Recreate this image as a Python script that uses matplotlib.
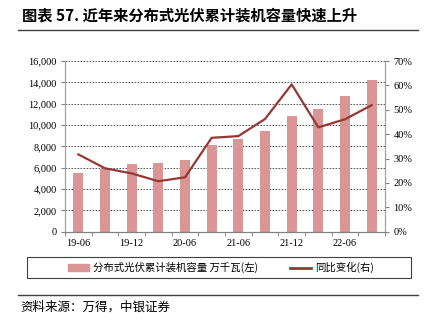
import matplotlib.pyplot as plt
from matplotlib.lines import Line2D
from matplotlib.patches import Patch, Rectangle
from matplotlib.ticker import FuncFormatter, MultipleLocator
import numpy as np

plt.rcParams['font.family'] = ['Liberation Serif', 'Noto Sans CJK SC']

periods = ['19-06', '19-09', '19-12', '20-03', '20-06', '20-12',
           '21-06', '21-09', '21-12', '22-03', '22-06', '22-09']
capacity = [5500, 5900, 6300, 6400, 6700, 8100,
            8700, 9400, 10800, 11500, 12700, 14200]   # 万千瓦
yoy = [31.7, 26.0, 23.9, 20.7, 22.3, 38.5,
       39.2, 46.2, 60.4, 42.8, 46.1, 51.9]            # %

bar_color = '#D99694'
line_color = '#953735'
cjk = ['Noto Sans CJK SC', 'DejaVu Sans']

fig = plt.figure(figsize=(4.25, 3.26), dpi=100)
ax = fig.add_axes([65 / 425, 1 - 231.7 / 326, 320 / 425, 170.7 / 326])
ax2 = ax.twinx()

x = np.arange(len(periods))
ax.bar(x, capacity, width=0.38, color=bar_color, zorder=2)
ax2.plot(x, yoy, color=line_color, lw=1.6, zorder=3)

ax.set_xlim(-0.5, len(periods) - 0.5)
ax.set_ylim(0, 16000)
ax2.set_ylim(0, 70)
ax.yaxis.set_major_locator(MultipleLocator(2000))
ax.yaxis.set_major_formatter(FuncFormatter(lambda v, p: f'{int(v):,}'))
ax2.yaxis.set_major_locator(MultipleLocator(10))
ax2.yaxis.set_major_formatter(FuncFormatter(lambda v, p: f'{int(v)}%'))

# every other period labelled, ticks sit on category boundaries
ax.set_xticks(x[::2])
ax.set_xticklabels(periods[::2])
ax.set_xticks(np.arange(-0.5, len(periods)), minor=True)
ax.tick_params(axis='x', which='major', length=0, labelsize=7.5, pad=5)
ax.tick_params(axis='x', which='minor', length=3, color='#808080')
ax.tick_params(axis='y', length=3, color='#808080', labelsize=7.5, pad=3)
ax2.tick_params(axis='y', length=3, color='#808080', labelsize=7.5, pad=3)

ax.grid(axis='y', linestyle=(0, (2, 1.6)), color='#404040', lw=0.6, zorder=0)
ax.set_axisbelow(True)
for a in (ax, ax2):
    a.spines['top'].set_visible(False)
    a.spines['left'].set_color('#a0a0a0')
    a.spines['right'].set_color('#a0a0a0')
    a.spines['bottom'].set_color('#808080')

# legend box below the plot
fig.add_artist(Rectangle((27 / 425, 1 - 278 / 326), 384 / 425, 21.5 / 326,
                         transform=fig.transFigure, fill=False,
                         edgecolor='#404040', lw=0.8))
handles = [Patch(color=bar_color),
           Line2D([], [], color=line_color, lw=2)]
labels = ['分布式光伏累计装机容量 万千瓦(左)', '同比变化(右)']
fig.legend(handles, labels, loc='center', ncol=2,
           bbox_to_anchor=(221 / 425, 1 - 267.5 / 326), frameon=False,
           prop={'family': cjk, 'size': 7.5}, handlelength=2.0,
           handleheight=0.6, handletextpad=0.4, columnspacing=3.0)

fig.text(22 / 425, 1 - 15 / 326, '图表 57. 近年来分布式光伏累计装机容量快速上升',
         family=cjk, fontsize=11, fontweight='bold', va='center')
fig.add_artist(Line2D([18 / 425, 418 / 425], [1 - 30 / 326, 1 - 30 / 326],
                      color='#404040', lw=1))
fig.add_artist(Line2D([18 / 425, 418 / 425], [1 - 295 / 326, 1 - 295 / 326],
                      color='#404040', lw=1))
fig.text(20 / 425, 1 - 307 / 326, '资料来源：万得，中银证券', family=cjk,
         fontsize=9, style='italic', va='center')

fig.savefig('out.png', dpi=100)
